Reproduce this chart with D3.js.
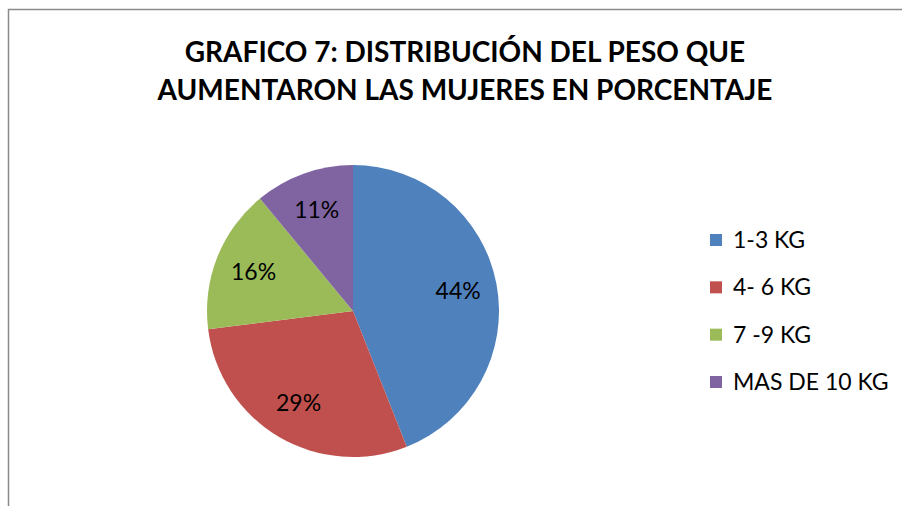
<!DOCTYPE html>
<html>
<head>
<meta charset="utf-8">
<script src="https://cdn.jsdelivr.net/npm/d3@7"></script>
<style>
	body { margin: 0; background: #fff; }
	text { font-family: Lato, "Open Sans", sans-serif; fill: #000; }
</style>
</head>
<body>
<div id="chart"></div>
<script>
var width = 902,
	height = 506;

var categories = ["1-3 KG", "4- 6 KG", "7 -9 KG", "MAS DE 10 KG"];
var values = [44, 29, 16, 11];
var colors = ["#4F81BD", "#C0504D", "#9BBB59", "#8064A2"];
var titleLines = ["GRAFICO 7: DISTRIBUCIÓN DEL PESO QUE", "AUMENTARON LAS MUJERES EN PORCENTAJE"];

var svg = d3.select("#chart").append("svg")
	.attr("width", width)
	.attr("height", height);

/* border (chart area runs off the right and bottom) */
svg.append("path")
	.attr("d", "M8.5," + height + "V9.5H" + width)
	.attr("fill", "none")
	.attr("stroke", "#8a8a8a")
	.attr("stroke-width", 1.5);

/* title */
svg.append("g")
	.selectAll("text")
	.data(titleLines)
	.enter().append("text")
	.attr("x", 465)
	.attr("y", function(d, i) { return 62 + i * 38; })
	.attr("text-anchor", "middle")
	.style("font-size", "28px")
	.style("font-weight", "bold")
	.text(function(d) { return d; });

/* pie */
var cx = 353, cy = 311, radius = 146;

var pie = d3.pie().sort(null).value(function(d) { return d; });
var arc = d3.arc().innerRadius(0).outerRadius(radius);
var labelArc = d3.arc().innerRadius(107).outerRadius(107);

var g = svg.append("g")
	.attr("transform", "translate(" + cx + "," + cy + ")");

var slices = g.selectAll(".slice")
	.data(pie(values))
	.enter().append("g")
	.attr("class", "slice");

slices.append("path")
	.attr("d", arc)
	.attr("fill", function(d, i) { return colors[i]; });

slices.append("text")
	.attr("transform", function(d) { return "translate(" + labelArc.centroid(d) + ")"; })
	.attr("text-anchor", "middle")
	.attr("dy", "0.35em")
	.style("font-size", "23px")
	.text(function(d) { return d.data + "%"; });

/* legend */
var y = d3.scalePoint()
	.domain(categories)
	.range([240, 382]);

var legend = svg.append("g")
	.selectAll("g")
	.data(categories)
	.enter().append("g")
	.attr("transform", function(d) { return "translate(710," + y(d) + ")"; });

legend.append("rect")
	.attr("x", 0)
	.attr("y", -6)
	.attr("width", 12)
	.attr("height", 12)
	.attr("fill", function(d, i) { return colors[i]; });

legend.append("text")
	.attr("x", 23)
	.attr("dy", "0.35em")
	.style("font-size", "23px")
	.text(function(d) { return d; });
</script>
</body>
</html>
